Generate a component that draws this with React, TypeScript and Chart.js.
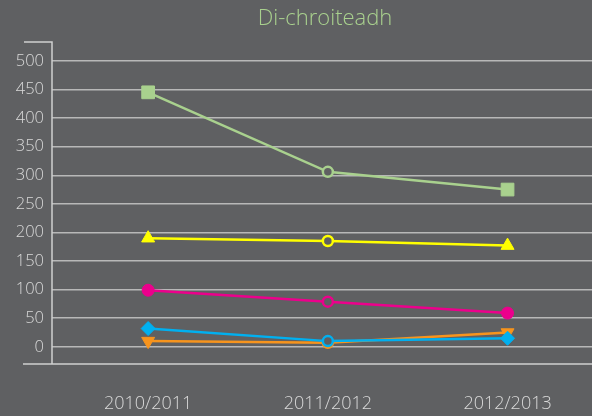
import React, { useEffect, useRef } from "react";
import { Chart, registerables } from "chart.js";

Chart.register(...registerables);

const categories = ["2010/2011", "2011/2012", "2012/2013"];
const seriesGreen = [445, 306, 275];
const seriesYellow = [190, 185, 177];
const seriesPink = [99, 79, 59];
const seriesBlue = [32, 10, 15];
const seriesOrange = [10, 7, 25];
const yTicks = [0, 50, 100, 150, 200, 250, 300, 350, 400, 450, 500];

const BG = "#5f6062";
const TEXT = "#d9d9d9";

function mk(label: string, data: number[], color: string, style: string, radius: number) {
  return {
    label,
    data: data.map((y, i) => ({ x: i, y })),
    borderColor: color,
    backgroundColor: color,
    borderWidth: 2.5,
    pointStyle: [style, "circle", style],
    pointRadius: [radius, 5, radius],
    pointBorderWidth: [1, 2.5, 1],
    pointBackgroundColor: [color, BG, color],
    pointBorderColor: color,
    tension: 0,
  };
}

const framePlugin = {
  id: "frame",
  afterDraw(chart: any) {
    const { ctx, chartArea } = chart;
    ctx.save();
    ctx.strokeStyle = "#d0d0d0";
    ctx.lineWidth = 1.5;
    ctx.beginPath();
    ctx.moveTo(24, chartArea.top);
    ctx.lineTo(chartArea.left, chartArea.top);
    ctx.lineTo(chartArea.left, chartArea.bottom);
    ctx.moveTo(23, chartArea.bottom);
    ctx.lineTo(chart.width, chartArea.bottom);
    ctx.stroke();
    ctx.fillStyle = "#a9d18e";
    ctx.font = "300 22px 'Open Sans', 'DejaVu Sans', sans-serif";
    ctx.textAlign = "center";
    ctx.textBaseline = "middle";
    ctx.fillText("Di-chroiteadh", 325, 19);
    ctx.restore();
  },
};

const bgPlugin = {
  id: "bg",
  beforeDraw(chart: any) {
    const { ctx } = chart;
    ctx.save();
    ctx.fillStyle = BG;
    ctx.fillRect(0, 0, chart.width, chart.height);
    ctx.restore();
  },
};

export default function App() {
  const ref = useRef<HTMLCanvasElement>(null);
  useEffect(() => {
    if (!ref.current) return;
    const chart = new Chart(ref.current, {
      type: "line",
      data: {
        datasets: [
          mk("A", seriesGreen, "#a9d18e", "rect", 9),
          mk("B", seriesYellow, "#ffff00", "triangle", 7.5),
          mk("C", seriesPink, "#ec008c", "circle", 6),
          mk("D", seriesBlue, "#00b0f0", "rectRot", 7),
          mk("E", seriesOrange, "#f7941d", "triangle", 7.5),
        ].map((d, i) => (i === 4 ? { ...d, pointRotation: 180 } : d)),
      },
      options: {
        animation: false,
        responsive: false,
        layout: { autoPadding: false, padding: { top: 42, right: 0, bottom: 0, left: 0 } },
        plugins: { legend: { display: false }, title: { display: false }, tooltip: { enabled: false } },
        scales: {
          x: {
            type: "linear",
            min: -0.535,
            max: 2.47,
            afterBuildTicks: (s: any) => {
              s.ticks = categories.map((_, i) => ({ value: i }));
            },
            afterFit: (s: any) => {
              s.height = 52;
            },
            ticks: {
              color: TEXT,
              font: { family: "'Open Sans', 'DejaVu Sans', sans-serif", size: 18, weight: "300" as any },
              padding: 21,
              maxRotation: 0,
              callback: (v: any) => categories[Math.round(Number(v))] ?? "",
            },
            grid: { display: false },
            border: { display: false },
          },
          y: {
            min: -30,
            max: 533,
            afterBuildTicks: (s: any) => {
              s.ticks = yTicks.map((v) => ({ value: v }));
            },
            afterFit: (s: any) => {
              s.width = 52;
            },
            ticks: {
              color: TEXT,
              font: { family: "'Open Sans', 'DejaVu Sans', sans-serif", size: 16.5, weight: "300" as any },
              padding: 8,
            },
            grid: { color: "#b8b8b8", lineWidth: 1.5, drawTicks: false },
            border: { display: false },
          },
        },
      },
      plugins: [bgPlugin, framePlugin],
    });
    return () => chart.destroy();
  }, []);
  return (
    <div style={{ position: "fixed", left: 0, top: 0, width: 592, height: 416, background: BG }}>
      <canvas ref={ref} width={592} height={416} style={{ display: "block" }} />
    </div>
  );
}
